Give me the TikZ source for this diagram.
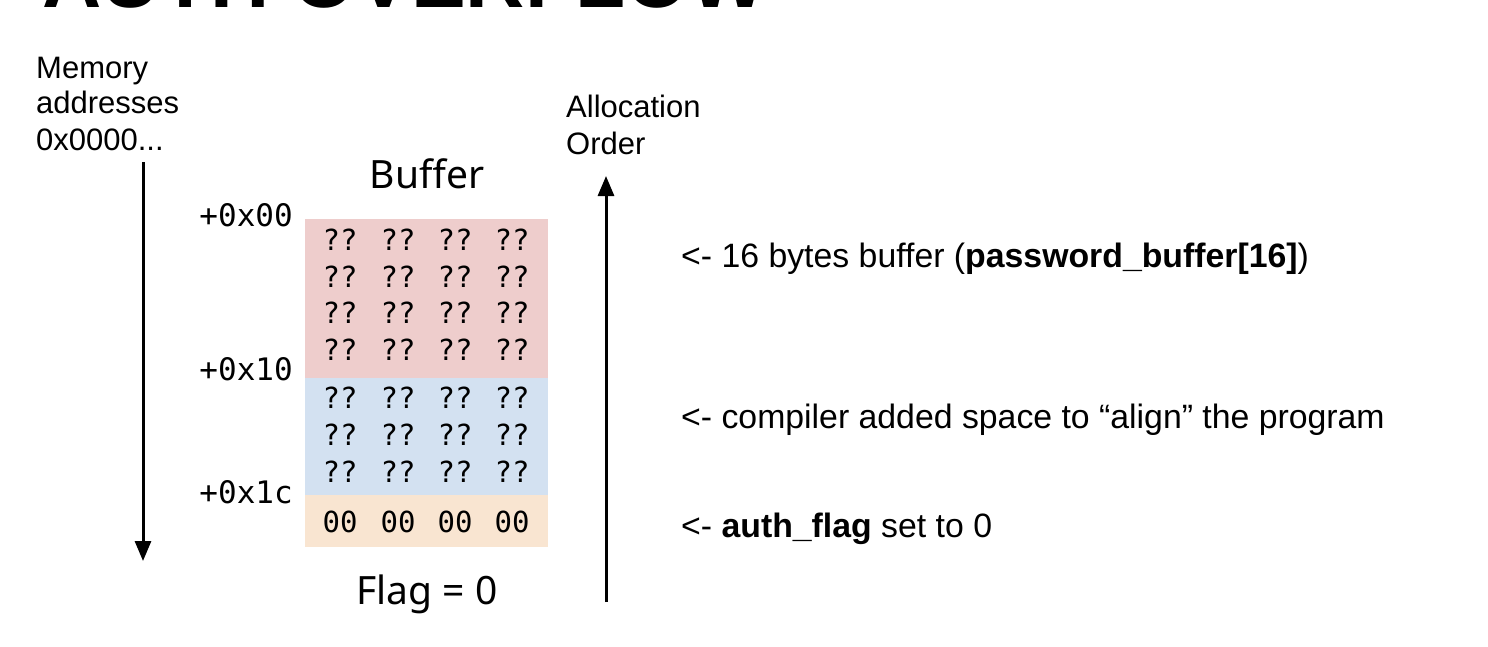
\documentclass[tikz,border=0pt]{standalone}
\usepackage{fontspec}
\setmainfont{Liberation Sans}
\newfontfamily\monofont{DejaVu Sans Mono}
\newfontfamily\notofont{Noto Sans}
\usetikzlibrary{arrows.meta}
\definecolor{bufred}{HTML}{EECDCC}
\definecolor{bufblue}{HTML}{D3E1F1}
\definecolor{buforange}{HTML}{F9E5D1}
\tikzset{
  lbl/.style={inner sep=0pt, anchor=base west, font=\fontsize{31}{36}\selectfont, align=left},
  note/.style={inner sep=0pt, anchor=base west, font=\fontsize{33.8}{40}\selectfont},
  offs/.style={inner sep=0pt, anchor=east, font=\monofont\fontsize{31}{36}\selectfont},
  cell/.style={inner sep=0pt, font=\monofont\fontsize{29}{34}\selectfont},
  captext/.style={inner sep=0pt, anchor=base, font=\notofont\fontsize{39}{45}\selectfont},
  region/.style={inner sep=0pt, anchor=north west, minimum width=243pt, draw=none},
  bigarrow/.style={line width=3pt, -{Triangle[width=16pt,length=20pt]}},
}
\begin{document}
\begin{tikzpicture}[x=1pt,y=-1pt]
\useasboundingbox (0,0) rectangle (1488,646);
\fill[white] (0,0) rectangle (1488,646);
% clipped title
\begin{scope}
\clip (0,0) rectangle (1488,646);
\node[inner sep=0pt, anchor=base west, font=\bfseries\fontsize{82}{90}\selectfont] (title) at (42,7) {AUTH OVERFLOW};
\end{scope}
% left label and arrow
\node[lbl] (mem1) at (36,78) {Memory};
\node[lbl] (mem2) at (36,113) {addresses};
\node[lbl] (mem3) at (36,150) {0x0000...};
\coordinate (mtop) at (143,162);
\coordinate (mbot) at (143,561);
\draw[bigarrow] (mtop) -- (mbot);
% allocation label and arrow
\node[lbl] (al1) at (566,117) {Allocation};
\node[lbl] (al2) at (566,154) {Order};
\coordinate (abot) at (606,602);
\coordinate (atop) at (606,176);
\draw[bigarrow] (abot) -- (atop);
% buffer regions
\node[region, fill=bufred, minimum height=159pt] (red) at (305,219) {};
\node[region, fill=bufblue, minimum height=118pt] (blue) at (305,378) {};
\node[region, fill=buforange, minimum height=52pt] (orange) at (305,495) {};
% captions
\node[captext] (buf) at (427,188) {Buffer};
\node[captext] (flag) at (427,604) {Flag = 0};
% offsets
\node[offs] (o0) at (293,215) {+0x00};
\node[offs] (o1) at (293,369) {+0x10};
\node[offs] (o2) at (293,492) {+0x1c};
% cells
\foreach \y [count=\r] in {240,277,313,350,398,435,472} {
  \foreach \x [count=\c] in {340,398,455,512} {
    \node[cell] (q\r-\c) at (\x,\y) {??};
  }
}
\foreach \x [count=\c] in {340,398,455,512} {
  \node[cell] (z\c) at (\x,522) {00};
}
% notes
\node[note] (n1) at (681,267) {<- 16 bytes buffer (\textbf{password\_buffer[16]})};
\node[note] (n2) at (681,428) {<- compiler added space to “align” the program};
\node[note] (n3) at (681,537) {<- \textbf{auth\_flag} set to 0};
\end{tikzpicture}
\end{document}
